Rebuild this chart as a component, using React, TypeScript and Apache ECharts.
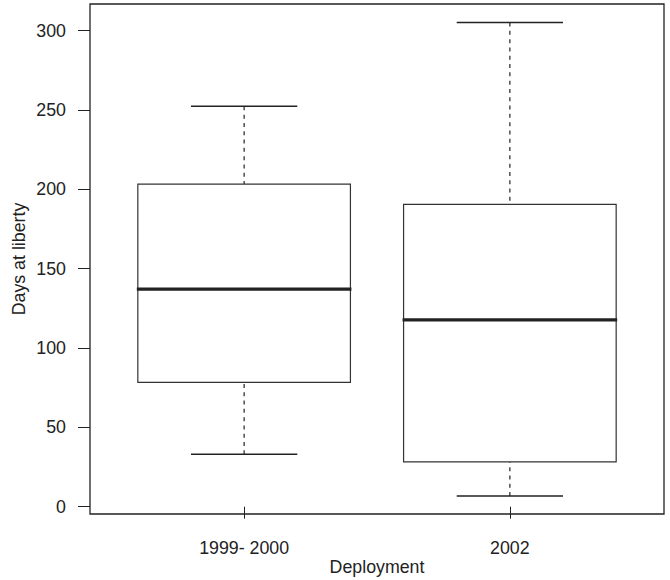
import React, { useEffect, useRef } from "react";
import * as echarts from "echarts";

const categories = ["1999- 2000", "2002"];
const lowerWhisker = [33.0, 6.7];
const q1 = [78.4, 28.2];
const median = [137.1, 117.7];
const q3 = [203.3, 190.5];
const upperWhisker = [252.3, 305.1];
const yTicks = [0, 50, 100, 150, 200, 250, 300];
const xTicks = [1, 2];

export default function App() {
  const ref = useRef<HTMLDivElement>(null);
  useEffect(() => {
    if (!ref.current) return;
    const chart = echarts.init(ref.current, undefined, { renderer: "svg" });
    const data = categories.map((_, i) => [
      i + 1,
      lowerWhisker[i],
      q1[i],
      median[i],
      q3[i],
      upperWhisker[i],
    ]);
    const font = "'Liberation Sans', Arial, Helvetica, sans-serif";
    const ink = "#222";
    chart.setOption({
      animation: false,
      backgroundColor: "#fff",
      grid: {
        left: 90,
        right: 6,
        top: 4,
        bottom: 66,
        containLabel: false,
        outerBoundsMode: "none",
        show: true,
        borderColor: "#222",
        borderWidth: 1.3,
        backgroundColor: "transparent",
      },
      xAxis: {
        type: "value",
        min: 0.42,
        max: 2.58,
        axisLine: { show: false },
        splitLine: { show: false },
        axisTick: {
          show: true,
          customValues: xTicks,
          length: 12,
          lineStyle: { color: ink, width: 1 },
        },
        axisLabel: {
          customValues: xTicks,
          formatter: (v: number) => categories[Math.round(v) - 1] ?? "",
          margin: 25,
          fontSize: 17.8,
          fontFamily: font,
          color: ink,
        },
        name: "Deployment",
        nameLocation: "middle",
        nameGap: 44,
        nameMoveOverlap: false,
        nameTextStyle: { fontSize: 17.8, fontFamily: font, color: ink },
      },
      yAxis: {
        type: "value",
        min: -4.6,
        max: 316.8,
        axisLine: { show: false },
        splitLine: { show: false },
        axisTick: {
          show: true,
          customValues: yTicks,
          length: 12,
          lineStyle: { color: ink, width: 1 },
        },
        axisLabel: {
          customValues: yTicks,
          margin: 24,
          fontSize: 17.8,
          fontFamily: font,
          color: ink,
        },
        name: "Days at liberty",
        nameLocation: "middle",
        nameGap: 62,
        nameRotate: 90,
        nameMoveOverlap: false,
        nameTextStyle: { fontSize: 17.8, fontFamily: font, color: ink },
      },
      series: [
        {
          type: "custom",
          data,
          encode: { x: 0, y: [1, 2, 3, 4, 5] },
          renderItem: (params: any, api: any) => {
            const x = api.value(0);
            const lo = api.coord([x, api.value(1)]);
            const b1 = api.coord([x, api.value(2)]);
            const md = api.coord([x, api.value(3)]);
            const b3 = api.coord([x, api.value(4)]);
            const hi = api.coord([x, api.value(5)]);
            const left = api.coord([x - 0.4, 0])[0];
            const right = api.coord([x + 0.4, 0])[0];
            const cl = api.coord([x - 0.2, 0])[0];
            const cr = api.coord([x + 0.2, 0])[0];
            const cx = lo[0];
            const dash = { stroke: ink, lineWidth: 1.2, lineDash: [4, 4.3] };
            const solid = { stroke: ink, lineWidth: 1.5 };
            return {
              type: "group",
              children: [
                { type: "line", shape: { x1: cx, y1: hi[1], x2: cx, y2: b3[1] }, style: dash },
                { type: "line", shape: { x1: cx, y1: lo[1], x2: cx, y2: b1[1] }, style: dash },
                { type: "line", shape: { x1: cl, y1: hi[1], x2: cr, y2: hi[1] }, style: solid },
                { type: "line", shape: { x1: cl, y1: lo[1], x2: cr, y2: lo[1] }, style: solid },
                {
                  type: "rect",
                  shape: { x: left, y: b3[1], width: right - left, height: b1[1] - b3[1] },
                  style: { fill: "#fff", stroke: "#333", lineWidth: 1.2 },
                },
                {
                  type: "line",
                  shape: { x1: left - 1, y1: md[1], x2: right + 1, y2: md[1] },
                  style: { stroke: ink, lineWidth: 3.2 },
                },
              ],
            };
          },
        },
      ],
    });
    return () => chart.dispose();
  }, []);
  return <div ref={ref} style={{ width: 670, height: 580, position: "absolute", left: 0, top: 0 }} />;
}
